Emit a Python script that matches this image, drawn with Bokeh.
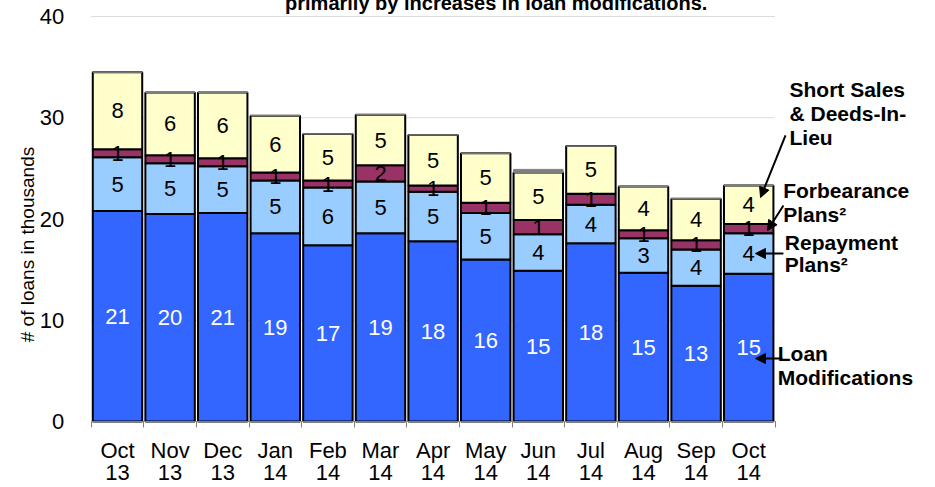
import numpy as np
from bokeh.plotting import figure
from bokeh.models import (ColumnDataSource, FixedTicker, LinearAxis, Label, Arrow,
                          NormalHead, Range1d)
from bokeh.embed import file_html
from bokeh.resources import INLINE
from bokeh.core.properties import value

months = ["Oct", "Nov", "Dec", "Jan", "Feb", "Mar", "Apr", "May", "Jun", "Jul", "Aug", "Sep", "Oct"]
years = ["13", "13", "13", "14", "14", "14", "14", "14", "14", "14", "14", "14", "14"]
loan_mods = [20.8, 20.5, 20.6, 18.6, 17.4, 18.6, 17.8, 16.0, 14.9, 17.6, 14.7, 13.4, 14.6]
repayment = [5.3, 5.0, 4.6, 5.2, 5.7, 5.1, 4.9, 4.6, 3.6, 3.8, 3.4, 3.6, 4.0]
forbearance = [0.8, 0.8, 0.8, 0.8, 0.7, 1.6, 0.6, 1.0, 1.4, 1.1, 0.8, 0.9, 0.9]
short_sales = [7.6, 6.2, 6.5, 5.6, 4.6, 5.0, 5.0, 4.9, 4.7, 4.7, 4.3, 4.1, 3.8]
other = [0, 0, 0, 0, 0, 0, 0, 0, 0.3, 0, 0, 0, 0]
y_ticks = [0, 10, 20, 30, 40]

title_text = "primarily by increases in loan modifications."
y_label = "# of loans in thousands"

FONT = "Liberation Sans"
n = len(months)
xs = list(range(n))

series = [loan_mods, repayment, forbearance, short_sales]
names = ["lm", "rep", "forb", "ss"]
colors = ["#3366FF", "#99CCFF", "#993366", "#FFFFCC"]

data = {"x": xs}
for nm, s in zip(names, series):
    data[nm] = s
src = ColumnDataSource(data)

# canvas geometry (canvas is shifted -8,-8 by the negative margin)
W, H = 943, 495
OFF = 8
cat_px = 52.6          # pixels per category
left_px = 90.7         # page x of category -0.5
unit_px = 10.125       # pixels per 1 (thousand)
zero_px = 421          # page y of 0
x0 = -0.5 - (left_px + OFF) / cat_px
x1 = x0 + W / cat_px
y1 = (zero_px + OFF) / unit_px
y0 = y1 - H / unit_px

p = figure(width=W, height=H, x_range=Range1d(x0, x1), y_range=Range1d(y0, y1),
           x_axis_location=None, toolbar_location=None, output_backend="svg",
           min_border=0, min_border_left=0, min_border_right=0,
           min_border_top=0, min_border_bottom=0)
p.styles = {"margin": "-8px -8px -8px -8px"}
p.outline_line_color = None
p.background_fill_color = "white"
p.border_fill_color = "white"

# y axis at the left edge of the bars
p.yaxis.fixed_location = -0.5
p.yaxis.ticker = FixedTicker(ticks=y_ticks)
p.yaxis.axis_line_color = None
p.yaxis.major_tick_line_color = None
p.yaxis.minor_tick_line_color = None
p.yaxis.major_label_text_font = FONT
p.yaxis.major_label_text_font_size = "22px"
p.yaxis.major_label_text_color = "black"
p.yaxis.major_label_standoff = 21
p.grid.visible = False

# horizontal grid lines limited to the bar area
p.segment(x0=[-0.5] * (len(y_ticks) - 1), x1=[12.5] * (len(y_ticks) - 1),
          y0=y_ticks[1:], y1=y_ticks[1:], line_color="#dcdcdc", line_width=1)

# x axes: months + years
ax1 = LinearAxis(ticker=FixedTicker(ticks=xs, minor_ticks=[i - 0.5 for i in range(n + 1)]),
                 fixed_location=0, bounds=(-0.5, n - 0.5),
                 major_label_overrides={i: months[i] for i in xs},
                 major_tick_in=0, major_tick_out=0, minor_tick_in=0, minor_tick_out=6,
                 minor_tick_line_color="#808080", axis_line_color="#808080",
                 major_label_text_font=FONT, major_label_text_font_size="22px",
                 major_label_text_color="black", major_label_standoff=10)
ax2 = LinearAxis(ticker=FixedTicker(ticks=xs), fixed_location=0, bounds=(-0.5, n - 0.5),
                 major_label_overrides={i: years[i] for i in xs},
                 major_tick_line_color=None, minor_tick_line_color=None, axis_line_color=None,
                 major_label_text_font=FONT, major_label_text_font_size="22px",
                 major_label_text_color="black", major_label_standoff=37)
p.add_layout(ax1, "below")
p.add_layout(ax2, "below")

bw = 0.94
p.vbar_stack(names, x="x", width=bw, color=colors, line_color="black", line_width=2, source=src)

# small grey "other" sliver on top
tops = np.sum(np.array(series), axis=0)
osrc = ColumnDataSource(dict(x=xs, bottom=tops, top=tops + np.array(other)))
p.vbar(x="x", bottom="bottom", top="top", width=bw, fill_color="#808080",
       line_color="#808080", line_width=1, source=osrc)

# value labels
cum = np.zeros(n)
for nm, s in zip(names, series):
    s = np.array(s)
    mid = cum + s / 2
    cum = cum + s
    lsrc = ColumnDataSource(dict(x=xs, y=mid, t=[str(int(round(v))) for v in s]))
    p.text(x="x", y="y", text="t", source=lsrc, text_align="center", text_baseline="middle",
           text_font=value(FONT), text_font_size="22px",
           text_color="white" if nm == "lm" else "black")

# title (cut off at top in the original)
p.add_layout(Label(x=7.20, y=41.38, text=title_text, text_align="center",
                   text_baseline="alphabetic", text_font=FONT, text_font_size="20px",
                   text_font_style="bold", text_color="black"))

# y label
p.add_layout(Label(x=-1.711, y=17.48, text=y_label, angle=np.pi / 2, text_align="center",
                   text_baseline="middle", text_font=FONT, text_font_size="19px",
                   text_color="black"))

# right-hand annotations
ann = [
    ("Short Sales", 12.775, 32.79), ("& Deeds-In-", 12.775, 30.42), ("Lieu", 12.775, 28.05),
    ("Forbearance", 12.656, 22.81), ("Plans\u00b2", 12.656, 20.40),
    ("Repayment", 12.686, 17.68), ("Plans\u00b2", 12.686, 15.51),
    ("Loan", 12.553, 6.72), ("Modifications", 12.553, 4.30),
]
for t, x, y in ann:
    p.add_layout(Label(x=x, y=y, text=t, text_align="left", text_baseline="middle",
                       text_font=FONT, text_font_size="21px", text_font_style="bold",
                       text_color="black"))

arrows = [
    (12.70, 28.25, 12.225, 22.12),
    (12.66, 21.33, 12.357, 18.86),
    (12.66, 16.59, 12.128, 16.59),
    (12.64, 6.22, 12.128, 6.22),
]
for xa, ya, xb, yb in arrows:
    p.add_layout(Arrow(x_start=xa, y_start=ya, x_end=xb, y_end=yb, line_width=2,
                       line_color="black",
                       end=NormalHead(size=10, fill_color="black", line_color="black")))

open("out.html", "w").write(file_html(p, INLINE))
